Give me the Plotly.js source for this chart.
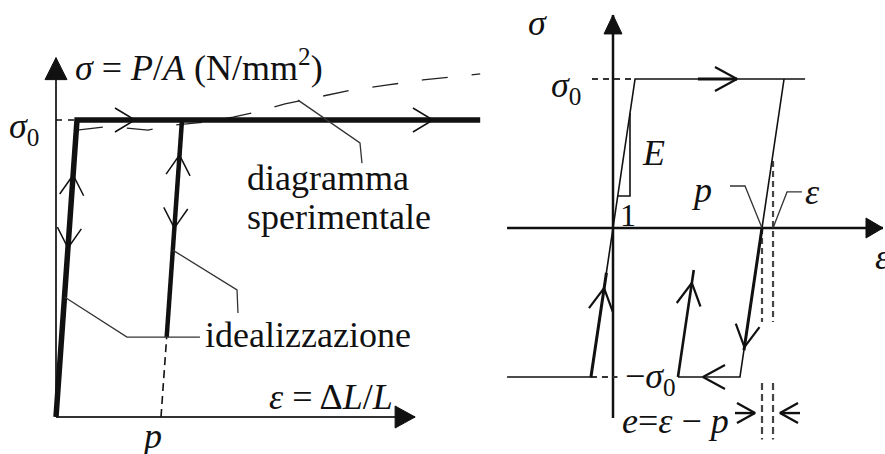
<!DOCTYPE html>
<html>
<head>
<meta charset="utf-8">
<script src="https://cdn.plot.ly/plotly-3.0.1.min.js"></script>
<style>
  html, body { margin: 0; padding: 0; background: #fff; }
  #chart { width: 885px; height: 454px; }
</style>
</head>
<body>
<div id="chart"></div>
<script>
// ===== Left diagram: tensile test, ε in units of p, σ in units of σ0 =====
const leftAxisEps = [0, 3.42];          // extent of the ε axis
const leftAxisSig = [0, 1.21];          // extent of the σ axis
const idealEps = [0, 0.2, 4.04];        // elastic–perfectly plastic idealisation
const idealSig = [0, 1, 1];
const reloadEps = [1.054, 1.2];         // unloading / reloading branch
const reloadSig = [0.269, 1];
const residualEps = [1, 1.054];         // dashed continuation down to p
const residualSig = [0, 0.269];
const yieldGuideEps = [0, 0.2];         // dashed σ0 guide
const yieldGuideSig = [1, 1];
// experimental curve (dashed)
const expEps = [0.200, 0.448, 0.657, 0.876, 1.133, 1.419, 1.686, 1.914, 2.181, 2.495, 2.819, 3.162, 3.495, 4.040];
const expSig = [0.966, 0.976, 0.973, 0.966, 0.983, 0.993, 1.010, 1.027, 1.054, 1.077, 1.101, 1.118, 1.135, 1.155];
// leader lines to the labels
const leaderExpEps = [2.305, 2.895, 2.914];
const leaderExpSig = [1.067, 0.923, 0.855];
const leaderIdealAEps = [0.081, 0.676, 1.371];
const leaderIdealASig = [0.404, 0.269, 0.269];
const leaderIdealBEps = [1.112, 1.724, 1.733];
const leaderIdealBSig = [0.562, 0.428, 0.350];
// direction chevrons: apex and path direction
const leftArrowEps = [0.752, 3.59, 0.163, 0.114, 1.176, 1.127];
const leftArrowSig = [1, 1, 0.815, 0.569, 0.882, 0.636];
const leftArrowDirE = [1, 1, 0.2, -0.2, 0.2, -0.2];
const leftArrowDirS = [0, 0, 1, -1, 1, -1];

// ===== Right diagram: cyclic loop, ε in units of p, σ in units of σ0 =====
const epsY = 0.148;                      // yield strain σ0/E
const rightAxisEps = [-0.711, 1.812];
const rightAxisSig = [-1.275, 1.43];
const loadEps = [-0.711, -epsY, epsY, 1.289];
const loadSig = [-1, -1, 1, 1];
const unloadEps = [1 + epsY, 1 - epsY, 0.436];
const unloadSig = [1, -1, -1];
const reverseEps = [0.436, 0.542];
const reverseSig = [-1, -0.282];
const topGuideEps = [-0.141, 0.134];
const topGuideSig = [1, 1];
const lowGuideEps = [-epsY, 0.03];
const lowGuideSig = [-1, -1];
// heavier strokes along the loop
const boldTopEps = [0.570, 0.832], boldTopSig = [1, 1];
const boldLeftEps = [-epsY, -0.044], boldLeftSig = [-1, -0.3];
const boldRightEps = [1, 0.879], boldRightSig = [0, -0.82];
const boldRevEps = reverseEps, boldRevSig = reverseSig;
// slope triangle for E
const slopeEps = [0.114, 0.114, 0.032];
const slopeSig = [0.770, 0.215, 0.215];
// p and ε marks
const pMarkEps = [1, 1], pMarkSig = [0, -0.631];
const eMarkEps = [1.074, 1.074], eMarkSig = [0.45, -0.631];
const pFootEps = [1, 1], pFootSig = [-1.04, -1.42];
const eFootEps = [1.074, 1.074], eFootSig = [-1.04, -1.42];
const leaderPEps = [0.785, 0.886, 1.0], leaderPSig = [0.282, 0.282, 0.0];
const leaderEEps = [1.074, 1.168, 1.268], leaderESig = [0.0, 0.242, 0.242];
// direction chevrons
const rightArrowEps = [0.832, 0.604, -0.060, 0.529, 0.882];
const rightArrowSig = [1, -1, -0.403, -0.369, -0.799];
const rightArrowDirE = [1, -1, epsY, epsY, -epsY];
const rightArrowDirS = [0, 0, 1, 1, -1];
// dimension arrows for e = ε − p
const dimArrowEps = [0.953, 1.121];
const dimArrowSig = [-1.242, -1.242];
const dimArrowDirE = [1, -1];

// ===== placement of the two coordinate frames on the page =====
const W = 885, H = 454;
const L = { ox: 56, oy: 417, kx: 105, ky: 297 };   // px position of origin, px per unit
const R = { ox: 613, oy: 228, kx: 149, ky: 149 };
function ranges(f) {
  return {
    x: [-f.ox / f.kx, (W - f.ox) / f.kx],
    y: [(f.oy - H) / f.ky, f.oy / f.ky]
  };
}
const rl = ranges(L), rr = ranges(R);

const INK = '#111';
const traces = [];
function line(ax, xs, ys, width, dash, color) {
  traces.push({
    type: 'scatter', mode: 'lines', x: xs, y: ys,
    xaxis: ax === 'L' ? 'x' : 'x2', yaxis: ax === 'L' ? 'y' : 'y2',
    line: { color: color || INK, width: width, dash: dash || 'solid' },
    hoverinfo: 'skip', showlegend: false
  });
}
function frame(ax) { return ax === 'L' ? L : R; }
// open chevron pointing along (dE, dS), apex at (e, s); sizes in px
function chevron(ax, e, s, dE, dS, len, half, width, stem) {
  const f = frame(ax);
  const vx = dE * f.kx, vy = dS * f.ky, n = Math.hypot(vx, vy);
  const ux = vx / n, uy = vy / n, qx = -uy, qy = ux;
  const ex = e * f.kx, ey = s * f.ky;
  const a = [ex - len * ux + half * qx, ey - len * uy + half * qy];
  const b = [ex - len * ux - half * qx, ey - len * uy - half * qy];
  line(ax, [a[0] / f.kx, e, b[0] / f.kx], [a[1] / f.ky, s, b[1] / f.ky], width);
  if (stem) line(ax, [e - stem * ux / f.kx, e], [s - stem * uy / f.ky, s], width);
}
// filled arrow head at the end of an axis
function head(ax, e, s, dE, dS, len, half) {
  const f = frame(ax);
  const ux = dE, uy = dS, qx = -uy, qy = ux;
  const ex = e * f.kx, ey = s * f.ky;
  const pts = [[ex, ey], [ex - len * ux + half * qx, ey - len * uy + half * qy],
               [ex - len * ux - half * qx, ey - len * uy - half * qy], [ex, ey]];
  traces.push({
    type: 'scatter', mode: 'lines', fill: 'toself', fillcolor: INK,
    x: pts.map(p => p[0] / f.kx), y: pts.map(p => p[1] / f.ky),
    xaxis: ax === 'L' ? 'x' : 'x2', yaxis: ax === 'L' ? 'y' : 'y2',
    line: { color: INK, width: 1 }, hoverinfo: 'skip', showlegend: false
  });
}

// ---- left diagram ----
line('L', [0, 0], leftAxisSig, 2, null, '#333');
line('L', leftAxisEps, [0, 0], 2, null, '#333');
head('L', 0, leftAxisSig[1], 0, 1, 22, 11);
head('L', leftAxisEps[1], 0, 1, 0, 20, 11);
line('L', expEps, expSig, 1.3, '26px,24px', '#222');
line('L', yieldGuideEps, yieldGuideSig, 1.6, '6px,6px');
line('L', residualEps, residualSig, 1.6, '8px,5px');
line('L', idealEps, idealSig, 5.5);
line('L', reloadEps, reloadSig, 4.5);
line('L', leaderExpEps, leaderExpSig, 1.3, null, '#333');
line('L', leaderIdealAEps, leaderIdealASig, 1.3, null, '#333');
line('L', leaderIdealBEps, leaderIdealBSig, 1.3, null, '#333');
leftArrowEps.forEach((e, i) =>
  chevron('L', e, leftArrowSig[i], leftArrowDirE[i], leftArrowDirS[i], 20, 12, 1.5));

// ---- right diagram ----
line('R', rightAxisEps, [0, 0], 2.5);
line('R', [0, 0], rightAxisSig, 2.5);
head('R', rightAxisEps[1], 0, 1, 0, 17, 10);
head('R', 0, rightAxisSig[1], 0, 1, 19, 9);
line('R', topGuideEps, topGuideSig, 2, '6px,5px', '#333');
line('R', lowGuideEps, lowGuideSig, 2, '6px,5px', '#333');
line('R', pMarkEps, pMarkSig, 2.2, '6px,4px', '#444');
line('R', eMarkEps, eMarkSig, 2.2, '6px,4px', '#444');
line('R', pFootEps, pFootSig, 2.2, '7px,4px', '#444');
line('R', eFootEps, eFootSig, 2.2, '7px,4px', '#444');
line('R', loadEps, loadSig, 1.6);
line('R', unloadEps, unloadSig, 1.6);
line('R', boldTopEps, boldTopSig, 3.2);
line('R', boldLeftEps, boldLeftSig, 3);
line('R', boldRightEps, boldRightSig, 3);
line('R', boldRevEps, boldRevSig, 2.6);
line('R', slopeEps, slopeSig, 1.6);
line('R', leaderPEps, leaderPSig, 1.3, null, '#333');
line('R', leaderEEps, leaderESig, 1.3, null, '#333');
rightArrowEps.forEach((e, i) =>
  chevron('R', e, rightArrowSig[i], rightArrowDirE[i], rightArrowDirS[i], 22, 12, 2.2));
dimArrowEps.forEach((e, i) =>
  chevron('R', e, dimArrowSig[i], dimArrowDirE[i], 0, 18, 10, 2.4, 20));

// ---- labels ----
const FONT = "'Liberation Serif', serif";
function label(ax, e, s, text, anchor, size) {
  return {
    xref: ax === 'L' ? 'x' : 'x2', yref: ax === 'L' ? 'y' : 'y2',
    x: e, y: s, text: text, showarrow: false,
    xanchor: anchor || 'left', yanchor: 'middle',
    font: { family: FONT, size: size || 36, color: INK }
  };
}
const annotations = [
  label('L', 0.162, 1.185, '<i>σ</i> = <i>P</i>/<i>A</i> (N/mm<sup>2</sup>)'),
  label('L', -0.467, 0.973, '<i>σ</i><sub>0</sub>'),
  label('L', 1.80, 0.805, 'diagramma'),
  label('L', 1.80, 0.673, 'sperimentale'),
  label('L', 1.40, 0.276, 'idealizzazione'),
  label('L', 2.01, 0.067, '<i>ε</i> = Δ<i>L</i>/<i>L</i>'),
  label('L', 0.914, -0.064, '<i>p</i>', 'center'),
  label('R', -0.510, 1.376, '<i>σ</i>', 'center'),
  label('R', -0.430, 0.940, '<i>σ</i><sub>0</sub>'),
  label('R', 0.275, 0.503, '<i>E</i>', 'center'),
  label('R', 0.101, 0.087, '1', 'center', 32),
  label('R', 0.591, 0.255, '<i>p</i>', 'center'),
  label('R', 1.275, 0.242, '<i>ε</i>'),
  label('R', 1.745, -0.195, '<i>ε</i>'),
  label('R', 0.067, -1.01, '−<i>σ</i><sub>0</sub>'),
  label('R', 0.047, -1.295, '<i>e</i>=<i>ε</i> − <i>p</i>')
];

function axis(range, overlay) {
  const a = { range: range, visible: false, showgrid: false, zeroline: false,
              fixedrange: true, domain: [0, 1] };
  if (overlay) a.overlaying = overlay;
  return a;
}
const layout = {
  width: W, height: H,
  margin: { l: 0, r: 0, t: 0, b: 0, pad: 0 },
  paper_bgcolor: '#fff', plot_bgcolor: '#fff',
  showlegend: false,
  font: { family: FONT },
  xaxis: axis(rl.x), yaxis: axis(rl.y),
  xaxis2: axis(rr.x, 'x'), yaxis2: axis(rr.y, 'y'),
  annotations: annotations
};
Plotly.newPlot('chart', traces, layout, { staticPlot: true, displayModeBar: false });
</script>
</body>
</html>
